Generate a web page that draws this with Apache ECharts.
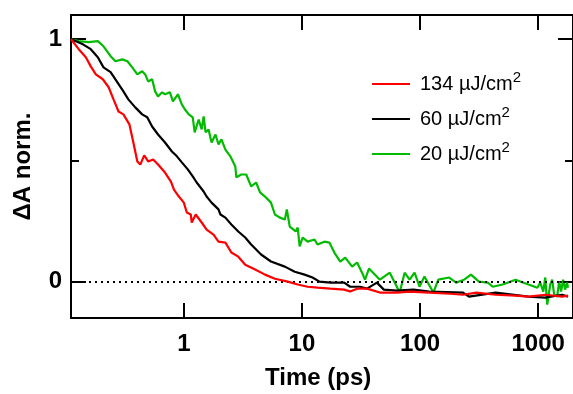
<!DOCTYPE html>
<html>
<head>
  <meta charset="utf-8">
  <title>Decay</title>
  <script src="https://cdn.jsdelivr.net/npm/echarts/dist/echarts.min.js"></script>
  <style>
    html, body { margin: 0; padding: 0; background: #fff; }
    #chart { width: 573px; height: 394px; }
  </style>
</head>
<body>
  <div id="chart"></div>
  <script>
    // fluences shown in the legend (uJ/cm2)
    var fluences = ['134', '60', '20'];
    var colors = ['#ff0000', '#000000', '#00bb00'];

    // time (ps) and normalised dA
    var timeRed = [0.111, 0.129, 0.148, 0.163, 0.180, 0.206, 0.231, 0.254, 0.280, 0.308, 0.346, 0.374, 0.404, 0.428, 0.462, 0.499, 0.550, 0.605, 0.693, 0.778, 0.825, 0.908, 1.0, 1.06, 1.145, 1.167, 1.261, 1.416, 1.559, 1.784, 1.965, 2.249, 2.526, 2.891, 3.309, 4.013, 4.867, 5.904, 7.588, 9.204, 11.16, 13.54, 17.40, 22.80, 25.60, 29.30, 35.53, 45.67, 63.42, 82.0, 119.9, 180, 231.1, 300, 436.9, 640, 826, 1150, 1592, 1788];
    var valRed = [1.0, 0.959, 0.926, 0.888, 0.855, 0.835, 0.802, 0.752, 0.702, 0.690, 0.649, 0.574, 0.496, 0.483, 0.521, 0.496, 0.504, 0.483, 0.450, 0.413, 0.380, 0.351, 0.326, 0.285, 0.277, 0.244, 0.277, 0.244, 0.215, 0.194, 0.165, 0.161, 0.120, 0.103, 0.070, 0.050, 0.029, 0.012, 0.0, -0.012, -0.021, -0.025, -0.029, -0.033, -0.041, -0.029, -0.029, -0.045, -0.045, -0.041, -0.045, -0.050, -0.054, -0.045, -0.054, -0.058, -0.062, -0.054, -0.062, -0.058];

    var timeBlack = [0.111, 0.140, 0.163, 0.187, 0.209, 0.240, 0.274, 0.308, 0.339, 0.388, 0.444, 0.490, 0.539, 0.605, 0.693, 0.793, 0.874, 0.962, 1.08, 1.19, 1.285, 1.471, 1.559, 1.717, 1.965, 2.042, 2.249, 2.526, 2.891, 3.309, 3.715, 4.506, 5.466, 7.162, 8.686, 10.53, 12.29, 14.07, 17.40, 22.80, 25.60, 31.05, 35.53, 43.11, 49.34, 63.42, 88.05, 119.9, 231.1, 259.5, 436.9, 826, 1147, 1592, 1788];
    var valBlack = [1.0, 0.979, 0.959, 0.926, 0.884, 0.864, 0.822, 0.785, 0.752, 0.719, 0.690, 0.678, 0.640, 0.607, 0.574, 0.537, 0.517, 0.492, 0.463, 0.434, 0.409, 0.372, 0.351, 0.326, 0.298, 0.277, 0.264, 0.236, 0.207, 0.182, 0.153, 0.112, 0.083, 0.062, 0.041, 0.029, 0.017, 0.0, -0.004, -0.004, -0.021, -0.021, -0.029, -0.004, -0.033, -0.037, -0.033, -0.041, -0.045, -0.062, -0.045, -0.062, -0.066, -0.054, -0.062];

    var timeGreen = [0.111, 0.129, 0.157, 0.187, 0.209, 0.240, 0.264, 0.302, 0.333, 0.366, 0.404, 0.444, 0.471, 0.499, 0.539, 0.571, 0.605, 0.654, 0.693, 0.763, 0.809, 0.891, 0.962, 1.019, 1.101, 1.19, 1.236, 1.336, 1.416, 1.471, 1.529, 1.62, 1.717, 1.854, 1.965, 2.082, 2.249, 2.477, 2.729, 2.782, 3.063, 3.374, 3.506, 3.715, 4.092, 4.42, 4.867, 5.466, 5.904, 6.504, 7.162, 7.443, 7.886, 8.856, 9.204, 9.566, 10.14, 11.16, 12.78, 13.54, 15.50, 17.07, 18.80, 21.11, 23.24, 26.61, 29.30, 32.27, 34.20, 36.94, 45.67, 55.40, 67.20, 74.01, 81.51, 89.78, 98.85, 108.9, 129.5, 142.7, 176.4, 201.9, 235.6, 269.7, 314.8, 374.5, 412.4, 500.1, 642.8, 826, 982.8, 1041, 1103, 1147, 1192, 1263, 1313, 1364, 1446, 1503, 1562, 1624, 1688, 1753, 1788];
    var valGreen = [1.0, 0.992, 0.988, 0.992, 0.971, 0.930, 0.909, 0.917, 0.909, 0.884, 0.855, 0.868, 0.855, 0.826, 0.835, 0.785, 0.764, 0.781, 0.773, 0.781, 0.744, 0.773, 0.731, 0.711, 0.690, 0.678, 0.616, 0.669, 0.628, 0.682, 0.616, 0.628, 0.574, 0.607, 0.566, 0.587, 0.545, 0.517, 0.475, 0.430, 0.442, 0.442, 0.434, 0.393, 0.409, 0.368, 0.351, 0.326, 0.277, 0.264, 0.256, 0.298, 0.227, 0.207, 0.223, 0.145, 0.182, 0.165, 0.174, 0.153, 0.165, 0.161, 0.120, 0.083, 0.099, 0.062, 0.079, 0.037, 0.008, 0.054, 0.008, 0.037, -0.045, 0.037, 0.008, 0.037, -0.021, 0.021, -0.045, 0.008, 0.017, -0.004, 0.008, 0.029, 0.0, -0.004, -0.021, -0.012, 0.008, -0.012, -0.025, -0.004, -0.041, 0.017, -0.095, -0.012, 0.008, -0.054, -0.062, 0.0, -0.041, 0.008, -0.033, -0.004, -0.025];

    // axis ticks
    var xTicks = [1, 10, 100, 1000];
    var yTicks = [0, 1];
    var yMinorTicks = [0.5];

    function pairs(t, v) {
      return t.map(function (x, i) { return [x, v[i]]; });
    }
    var seriesData = [pairs(timeRed, valRed), pairs(timeBlack, valBlack), pairs(timeGreen, valGreen)];

    var font = 'Liberation Sans, Arial, sans-serif';
    var xMin = 0.1109, xMax = 1970, yMin = -0.15, yMax = 1.1;

    function xAxisCfg(pos, labels) {
      return {
        type: 'log', logBase: 10, position: pos, min: xMin, max: xMax,
        axisLine: { show: true, onZero: false, lineStyle: { color: '#000', width: 2 } },
        axisTick: { show: true, inside: true, length: 15, customValues: xTicks, lineStyle: { color: '#000', width: 2 } },
        axisLabel: labels ? {
          show: true, customValues: xTicks, margin: 14,
          formatter: function (v) { return String(Math.round(v)); },
          color: '#000', fontSize: 24, fontWeight: 'bold', fontFamily: font
        } : { show: false },
        splitLine: { show: false }
      };
    }
    function yAxisCfg(pos, ticks, len, line, labels) {
      return {
        type: 'value', position: pos, min: yMin, max: yMax,
        name: labels ? '\u0394A norm.' : '',
        nameLocation: 'middle', nameGap: 36,
        nameTextStyle: { color: '#000', fontSize: 24, fontWeight: 'bold', fontFamily: font },
        axisLine: { show: line, onZero: false, lineStyle: { color: '#000', width: 2 } },
        axisTick: { show: true, inside: true, length: len, customValues: ticks, lineStyle: { color: '#000', width: 2 } },
        axisLabel: labels ? {
          show: true, customValues: yTicks, margin: 9,
          color: '#000', fontSize: 24, fontWeight: 'bold', fontFamily: font
        } : { show: false },
        splitLine: { show: false }
      };
    }

    var chart = echarts.init(document.getElementById('chart'));
    var option = {
      animation: false,
      backgroundColor: '#fff',
      grid: { left: 71, right: -5, top: 15, bottom: 76 },
      legend: {
        data: fluences,
        orient: 'vertical',
        left: 372, top: 70, padding: 0,
        icon: 'rect',
        itemWidth: 38, itemHeight: 2, itemGap: 11,
        textStyle: {
          color: '#000', fontFamily: font, padding: [0, 0, 0, 5],
          rich: {
            t: { fontSize: 20, lineHeight: 28, fontFamily: font, color: '#000' },
            s: { fontSize: 15, lineHeight: 15, verticalAlign: 'top', fontFamily: font, color: '#000' }
          }
        },
        formatter: function (name) { return '{t|' + name + ' \u00b5J/cm}{s|2}'; }
      },
      graphic: [{
        type: 'text', left: 265, top: 366,
        style: { text: 'Time (ps)', fill: '#000', font: 'bold 24px ' + font, textAlign: 'center' }
      }],
      xAxis: [xAxisCfg('bottom', true), xAxisCfg('top', false)],
      yAxis: [
        yAxisCfg('left', yTicks, 15, true, true),
        yAxisCfg('left', yMinorTicks, 8, false, false),
        yAxisCfg('right', yTicks, 15, true, false),
        yAxisCfg('right', yMinorTicks, 8, false, false)
      ],
      series: fluences.map(function (f, i) {
        var s = {
          name: f, type: 'line', data: seriesData[i],
          symbol: 'none', smooth: false,
          lineStyle: { color: colors[i], width: 2.2 },
          itemStyle: { color: colors[i] },
          z: 5 - i
        };
        if (i === 0) {
          s.markLine = {
            silent: true, symbol: 'none', label: { show: false },
            lineStyle: { color: '#000', type: [2, 4], width: 2 },
            data: [{ yAxis: 0 }]
          };
        }
        return s;
      })
    };
    chart.setOption(option);
  </script>
</body>
</html>
